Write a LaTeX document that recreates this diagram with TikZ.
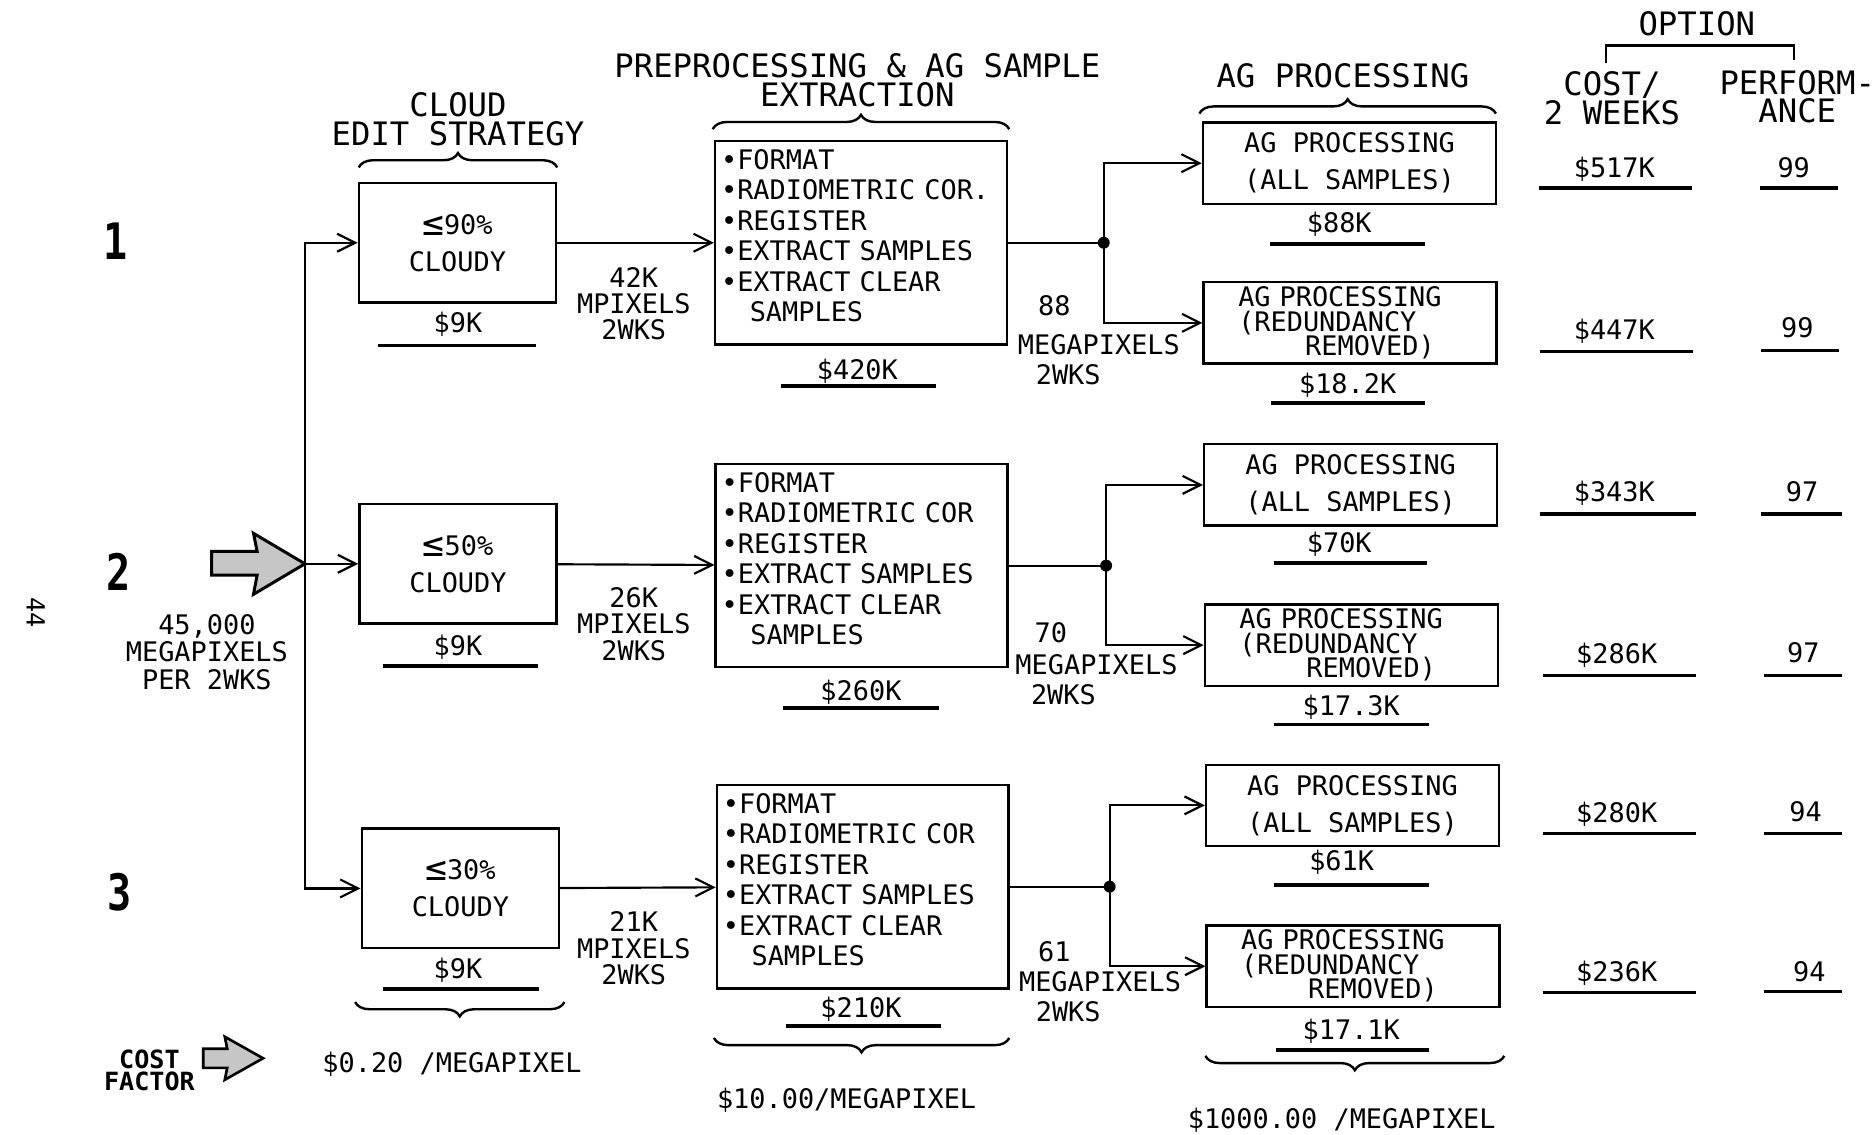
\documentclass[tikz,border=0pt]{standalone}
\usepackage{fontspec}
\setmainfont{DejaVu Sans Mono}
\newfontfamily\bigfont[FakeStretch=0.8]{DejaVu Sans Mono}
\usetikzlibrary{arrows.meta,decorations.pathreplacing}
\newcommand{\leqbig}{\raisebox{-1pt}{\scalebox{1.35}{≤}}}
\tikzset{
  txt/.style={font=\fontsize{22.5}{25.5}\selectfont, inner sep=0pt},
  val/.style={txt, text height=16.4pt, text depth=0pt},
  hdr/.style={font=\fontsize{27}{24}\selectfont, inner sep=0pt, align=center},
  flow/.style={font=\fontsize{22.5}{22}\selectfont, inner sep=0pt, align=center},
  flowl/.style={font=\fontsize{22.5}{25}\selectfont, inner sep=0pt, align=left, anchor=west},
  rownum/.style={font=\bigfont\bfseries\fontsize{42}{42}\selectfont, inner sep=0pt},
  cbox/.style={draw, line width=2pt, minimum width=165pt, minimum height=100pt,
    inner sep=0pt, align=center, font=\fontsize{22.5}{31}\selectfont},
  pbox/.style={draw, line width=2pt, minimum width=244pt, minimum height=170pt,
    inner xsep=5pt, inner ysep=0pt, text width=234pt, align=left,
    font=\fontsize{22.5}{25.5}\selectfont},
  abox/.style={draw, line width=2pt, minimum width=245pt, minimum height=68pt,
    inner sep=0pt, align=center, font=\fontsize{22.5}{31}\selectfont},
  rbox/.style={draw, line width=2pt, minimum width=245pt, minimum height=68pt,
    inner xsep=29pt, inner ysep=0pt, text width=187pt, align=left,
    font=\fontsize{22.5}{20.5}\selectfont},
  conn/.style={line width=1.8pt, -{Straight Barb[length=15pt,width=15pt]}},
  wire/.style={line width=1.8pt},
  uline/.style={line width=3pt},
  brc/.style={line width=2pt, decorate, decoration={brace, amplitude=12pt}},
  fat/.style={draw, line width=2.5pt, fill=gray!45, line join=miter},
  dot/.style={fill=black}
}
\begin{document}
\begin{tikzpicture}[x=1pt,y=-1pt]
\useasboundingbox (0,0) rectangle (1568,949);

% ---------- headers ----------
\node[hdr] (hcloud) at (383,100) {CLOUD\\EDIT STRATEGY};
\node[hdr] (hpre) at (717,67) {PREPROCESSING \& AG SAMPLE\\EXTRACTION};
\node[hdr] (hag) at (1123,63) {AG PROCESSING};
\node[hdr] (hopt) at (1419,20) {OPTION};
\node[hdr] (hcost) at (1348,82) {COST/\\2 WEEKS};
\node[hdr] (hperf) at (1503,81) {PERFORM-\\ANCE};
\draw[line width=2pt] (1343,53) -- (1343,38) -- (1500,38) -- (1500,50);

% top braces
\draw[brc] (300,140) -- (466,140);
\draw[brc] (596,108) -- (844,108);
\draw[brc] (1003,95) -- (1251,95);

% ---------- left side ----------
\node[rownum] (n1) at (97,202) {1};
\node[rownum] (n2) at (99,478) {2};
\node[rownum] (n3) at (100,746) {3};
\node[txt, font=\fontsize{21}{21}\selectfont, rotate=-90] (pg) at (30,512) {44};
\node[flow, font=\fontsize{22.5}{23}\selectfont] (inlab) at (173,545) {45,000\\MEGAPIXELS\\PER 2WKS};

\coordinate (in) at (255,471.5);
\draw[fat] (177,461) -- (215,461) -- (212,446) -- (in) -- (212,497) -- (215,481) -- (177,481) -- cycle;

\node[txt, font=\bfseries\fontsize{21}{18}\selectfont, align=center] (cf) at (125,895) {COST\\FACTOR};
\draw[fat, line width=2.2pt] (170,877) -- (190,877) -- (188,867) -- (220,885) -- (188,903) -- (190,893) -- (170,893) -- cycle;

% ---------- cloud boxes ----------
\node[cbox] (c1) at (382.5,203) {\leqbig 90\%\\CLOUDY};
\node[cbox] (c2) at (383,471.5) {\leqbig 50\%\\CLOUDY};
\node[cbox] (c3) at (385,743) {\leqbig 30\%\\CLOUDY};

\draw[conn] (in) |- (c1);
\draw[conn] (in) -- (c2);
\draw[conn] (in) |- (c3);

\node[val] (c1v) at (383,270) {\$9K};
\draw[uline] (316,289) -- (448,289);
\node[val] (c2v) at (383,540) {\$9K};
\draw[uline] (320,557) -- (450,557);
\node[val] (c3v) at (383,810) {\$9K};
\draw[uline] (320,827) -- (451,827);

\draw[brc] (472,838) -- (297,838);
\node[txt] (cfa) at (378,890) {\$0.20 /MEGAPIXEL};

% ---------- preprocessing boxes ----------
\node[pbox] (p1) at (720,203) {%
  •FORMAT\\•RADIOMETRIC COR.\\•REGISTER\\•EXTRACT SAMPLES\\•EXTRACT CLEAR\\\hspace*{24pt}SAMPLES\\[-13.5pt]\mbox{}};
\node[pbox] (p2) at (720.5,473) {%
  •FORMAT\\•RADIOMETRIC COR\\•REGISTER\\•EXTRACT SAMPLES\\•EXTRACT CLEAR\\\hspace*{24pt}SAMPLES\\[-13.5pt]\mbox{}};
\node[pbox] (p3) at (721.5,741.5) {%
  •FORMAT\\•RADIOMETRIC COR\\•REGISTER\\•EXTRACT SAMPLES\\•EXTRACT CLEAR\\\hspace*{24pt}SAMPLES\\[-13.5pt]\mbox{}};

\draw[conn] (c1) -- (p1);
\draw[conn] (c2) -- (p2);
\draw[conn] (c3) -- (p3);

\node[flow] (f1) at (530,254) {42K\\MPIXELS\\2WKS};
\node[flow] (f2) at (530,522) {26K\\MPIXELS\\2WKS};
\node[flow] (f3) at (530,793) {21K\\MPIXELS\\2WKS};

\node[val] (p1v) at (717,309) {\$420K};
\draw[uline] (653,323) -- (783,323);
\node[val] (p2v) at (720,578) {\$260K};
\draw[uline] (655,592) -- (785,592);
\node[val] (p3v) at (720,843) {\$210K};
\draw[uline] (657,858) -- (787,858);

\draw[brc] (844,868) -- (597,868);
\node[txt] (pfa) at (708,920) {\$10.00/MEGAPIXEL};

% ---------- AG boxes ----------
\node[abox] (a1) at (1128.5,136.5) {AG PROCESSING\\(ALL SAMPLES)};
\node[rbox] (b1) at (1129,270) {AG PROCESSING\\(REDUNDANCY\\\hspace*{56pt}REMOVED)};
\node[abox] (a2) at (1129.5,405.5) {AG PROCESSING\\(ALL SAMPLES)};
\node[rbox] (b2) at (1130,539.5) {AG PROCESSING\\(REDUNDANCY\\\hspace*{56pt}REMOVED)};
\node[abox] (a3) at (1131,673.5) {AG PROCESSING\\(ALL SAMPLES)};
\node[rbox] (b3) at (1131.5,808) {AG PROCESSING\\(REDUNDANCY\\\hspace*{56pt}REMOVED)};

\coordinate (j1) at (923,203);
\coordinate (j2) at (925,473);
\coordinate (j3) at (928,741.5);
\draw[wire] (p1) -- (j1);
\draw[wire] (p2) -- (j2);
\draw[wire] (p3) -- (j3);
\fill[dot] (j1) circle[radius=5pt];
\fill[dot] (j2) circle[radius=5pt];
\fill[dot] (j3) circle[radius=5pt];
\draw[conn] (j1) |- (a1);
\draw[conn] (j1) |- (b1);
\draw[conn] (j2) |- (a2);
\draw[conn] (j2) |- (b2);
\draw[conn] (j3) |- (a3);
\draw[conn] (j3) |- (b3);

\node[flowl] (g1) at (851,284.5) {\hspace*{17pt}88\\[7pt]MEGAPIXELS\\\hspace*{15pt}2WKS};
\node[flowl] (g2) at (849,555) {\hspace*{16pt}70\\[2pt]MEGAPIXELS\\\hspace*{13pt}2WKS};
\node[flowl] (g3) at (852,821) {\hspace*{16pt}61\\MEGAPIXELS\\\hspace*{14pt}2WKS};

\node[val] (a1v) at (1120,186) {\$88K};
\draw[uline] (1062,204) -- (1192,204);
\node[val] (b1v) at (1127,321) {\$18.2K};
\draw[uline] (1063,337) -- (1192,337);
\node[val] (a2v) at (1120,454) {\$70K};
\draw[uline] (1065,471) -- (1193,471);
\node[val] (b2v) at (1130,590) {\$17.3K};
\draw[uline] (1065,606) -- (1195,606);
\node[val] (a3v) at (1122,720) {\$61K};
\draw[uline] (1065,740) -- (1195,740);
\node[val] (b3v) at (1130,861) {\$17.1K};
\draw[uline] (1067,878) -- (1195,878);

\draw[brc] (1258,883) -- (1008,883);
\node[txt] (afa) at (1122,937) {\$1000.00 /MEGAPIXEL};

% ---------- option columns ----------
\node[val] (o1c) at (1350,140) {\$517K};
\draw[uline] (1287,157) -- (1415,157);
\node[val] (o1p) at (1500,140) {99};
\draw[uline] (1472,157) -- (1537,157);
\node[val] (o2c) at (1350,276) {\$447K};
\draw[uline] (1288,294) -- (1416,294);
\node[val] (o2p) at (1503,274) {99};
\draw[uline] (1473,293) -- (1538,293);
\node[val] (o3c) at (1350,411) {\$343K};
\draw[uline] (1288,430) -- (1418,430);
\node[val] (o3p) at (1507,411) {97};
\draw[uline] (1473,430) -- (1540,430);
\node[val] (o4c) at (1352,547) {\$286K};
\draw[uline] (1290,565) -- (1418,565);
\node[val] (o4p) at (1508,546) {97};
\draw[uline] (1475,565) -- (1540,565);
\node[val] (o5c) at (1352,680) {\$280K};
\draw[uline] (1290,697) -- (1418,697);
\node[val] (o5p) at (1510,679) {94};
\draw[uline] (1475,697) -- (1540,697);
\node[val] (o6c) at (1352,813) {\$236K};
\draw[uline] (1290,830) -- (1418,830);
\node[val] (o6p) at (1513,813) {94};
\draw[uline] (1475,829) -- (1540,829);
\end{tikzpicture}
\end{document}
